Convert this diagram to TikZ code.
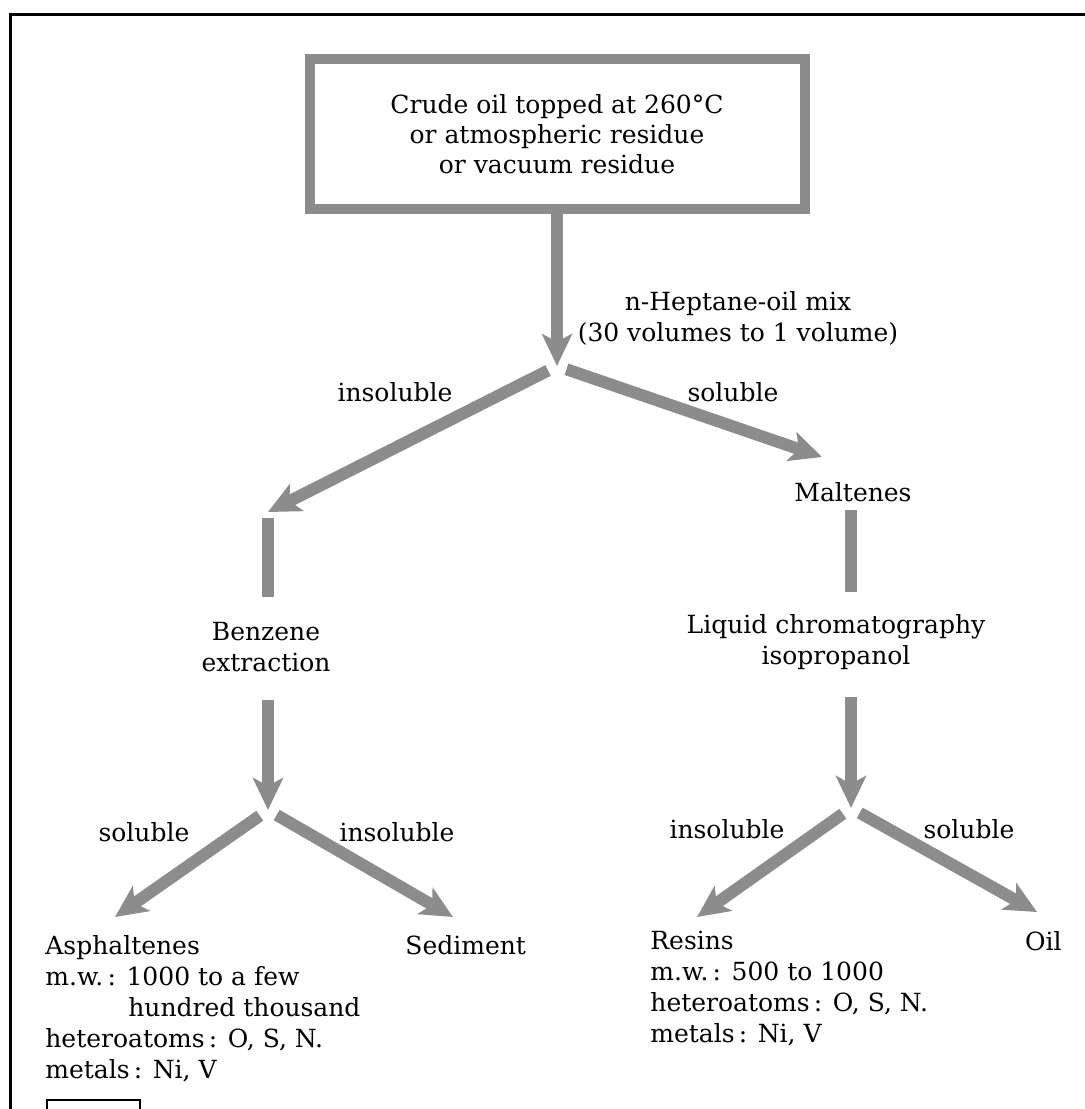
\documentclass[tikz,border=0pt]{standalone}
\usepackage{fontspec}
\setmainfont{DejaVu Serif}
\usetikzlibrary{arrows.meta}
\definecolor{stipple}{gray}{0.55}

\begin{document}
\begin{tikzpicture}[x=0.5pt, y=-0.5pt,
    txt/.style={font=\fontsize{12.5}{15.5}\selectfont, inner sep=0pt, align=center},
    flow/.style={draw=stipple, line width=6pt, -{Stealth[length=16pt, width=15pt, inset=4pt]}},
    band/.style={draw=stipple, line width=6pt}]
    \useasboundingbox (0,0) rectangle (1085,1109);

    % Frame
    \draw[line width=1.5pt] (10,1109) -- (10,14) -- (1085,14);
    \draw[line width=0.8pt] (47,1109) -- (47,1100) -- (140,1100) -- (140,1109);

    % Feed
    \node[txt, font=\fontsize{12.5}{15}\selectfont, draw=stipple, line width=5pt, minimum width=247.5pt, minimum height=75pt] (crude) at (557,134) {Crude oil topped at 260°C\\or atmospheric residue\\or vacuum residue};
    \node[txt] (hep) at (738,318) {n-Heptane-oil mix\\(30 volumes to 1 volume)};
    \coordinate (j1) at (557,366);
    \coordinate (insTip) at (268,512);
    \coordinate (malTip) at (822,457);
    \node[txt] (ins1) at (395,392) {insoluble};
    \node[txt] (sol1) at (733,392) {soluble};

    % Left branch
    \coordinate (s1a) at (268,518);
    \coordinate (s1b) at (268,597);
    \node[txt] (benz) at (266,647) {Benzene\\extraction};
    \coordinate (b1) at (268,700);
    \coordinate (j2) at (268,810);
    \coordinate (aspTip) at (115,917);
    \coordinate (sedTip) at (453,917);
    \node[txt] (sol2) at (144,832) {soluble};
    \node[txt] (ins2) at (397,832) {insoluble};
    \node[txt, anchor=north west, align=left] (asph) at (45,935) {Asphaltenes\\m.w.\,: 1000 to a few\\\hspace*{41.5pt}hundred thousand\\heteroatoms\,: O, S, N.\\metals\,: Ni, V};
    \node[txt, anchor=north west] (sed) at (405,935) {Sediment};

    % Right branch
    \node[txt] (malt) at (853,492) {Maltenes};
    \coordinate (s2a) at (851,510);
    \coordinate (s2b) at (851,592);
    \node[txt] (lc) at (836,642) {Liquid chromatography\\isopropanol};
    \coordinate (c1) at (851,697);
    \coordinate (j3) at (851,808);
    \coordinate (resTip) at (697,917);
    \coordinate (oilTip) at (1037,912);
    \node[txt] (ins3) at (727,829) {insoluble};
    \node[txt] (sol3) at (969,829) {soluble};
    \node[txt, anchor=north west, align=left] (res) at (650,931) {Resins\\m.w.\,: 500 to 1000\\heteroatoms\,: O, S, N.\\metals\,: Ni, V};
    \node[txt, anchor=north east] (oil) at (1062,931) {Oil};

    % Flows
    \draw[flow] (crude.south) -- (j1);
    \draw[flow, shorten <=5pt] (j1) -- (insTip);
    \draw[flow, shorten <=5pt] (j1) -- (malTip);
    \draw[band] (s1a) -- (s1b);
    \draw[band] (s2a) -- (s2b);
    \draw[flow] (b1) -- (j2);
    \draw[flow] (c1) -- (j3);
    \draw[flow, shorten <=5pt] (j2) -- (aspTip);
    \draw[flow, shorten <=5pt] (j2) -- (sedTip);
    \draw[flow, shorten <=5pt] (j3) -- (resTip);
    \draw[flow, shorten <=5pt] (j3) -- (oilTip);
\end{tikzpicture}
\end{document}
